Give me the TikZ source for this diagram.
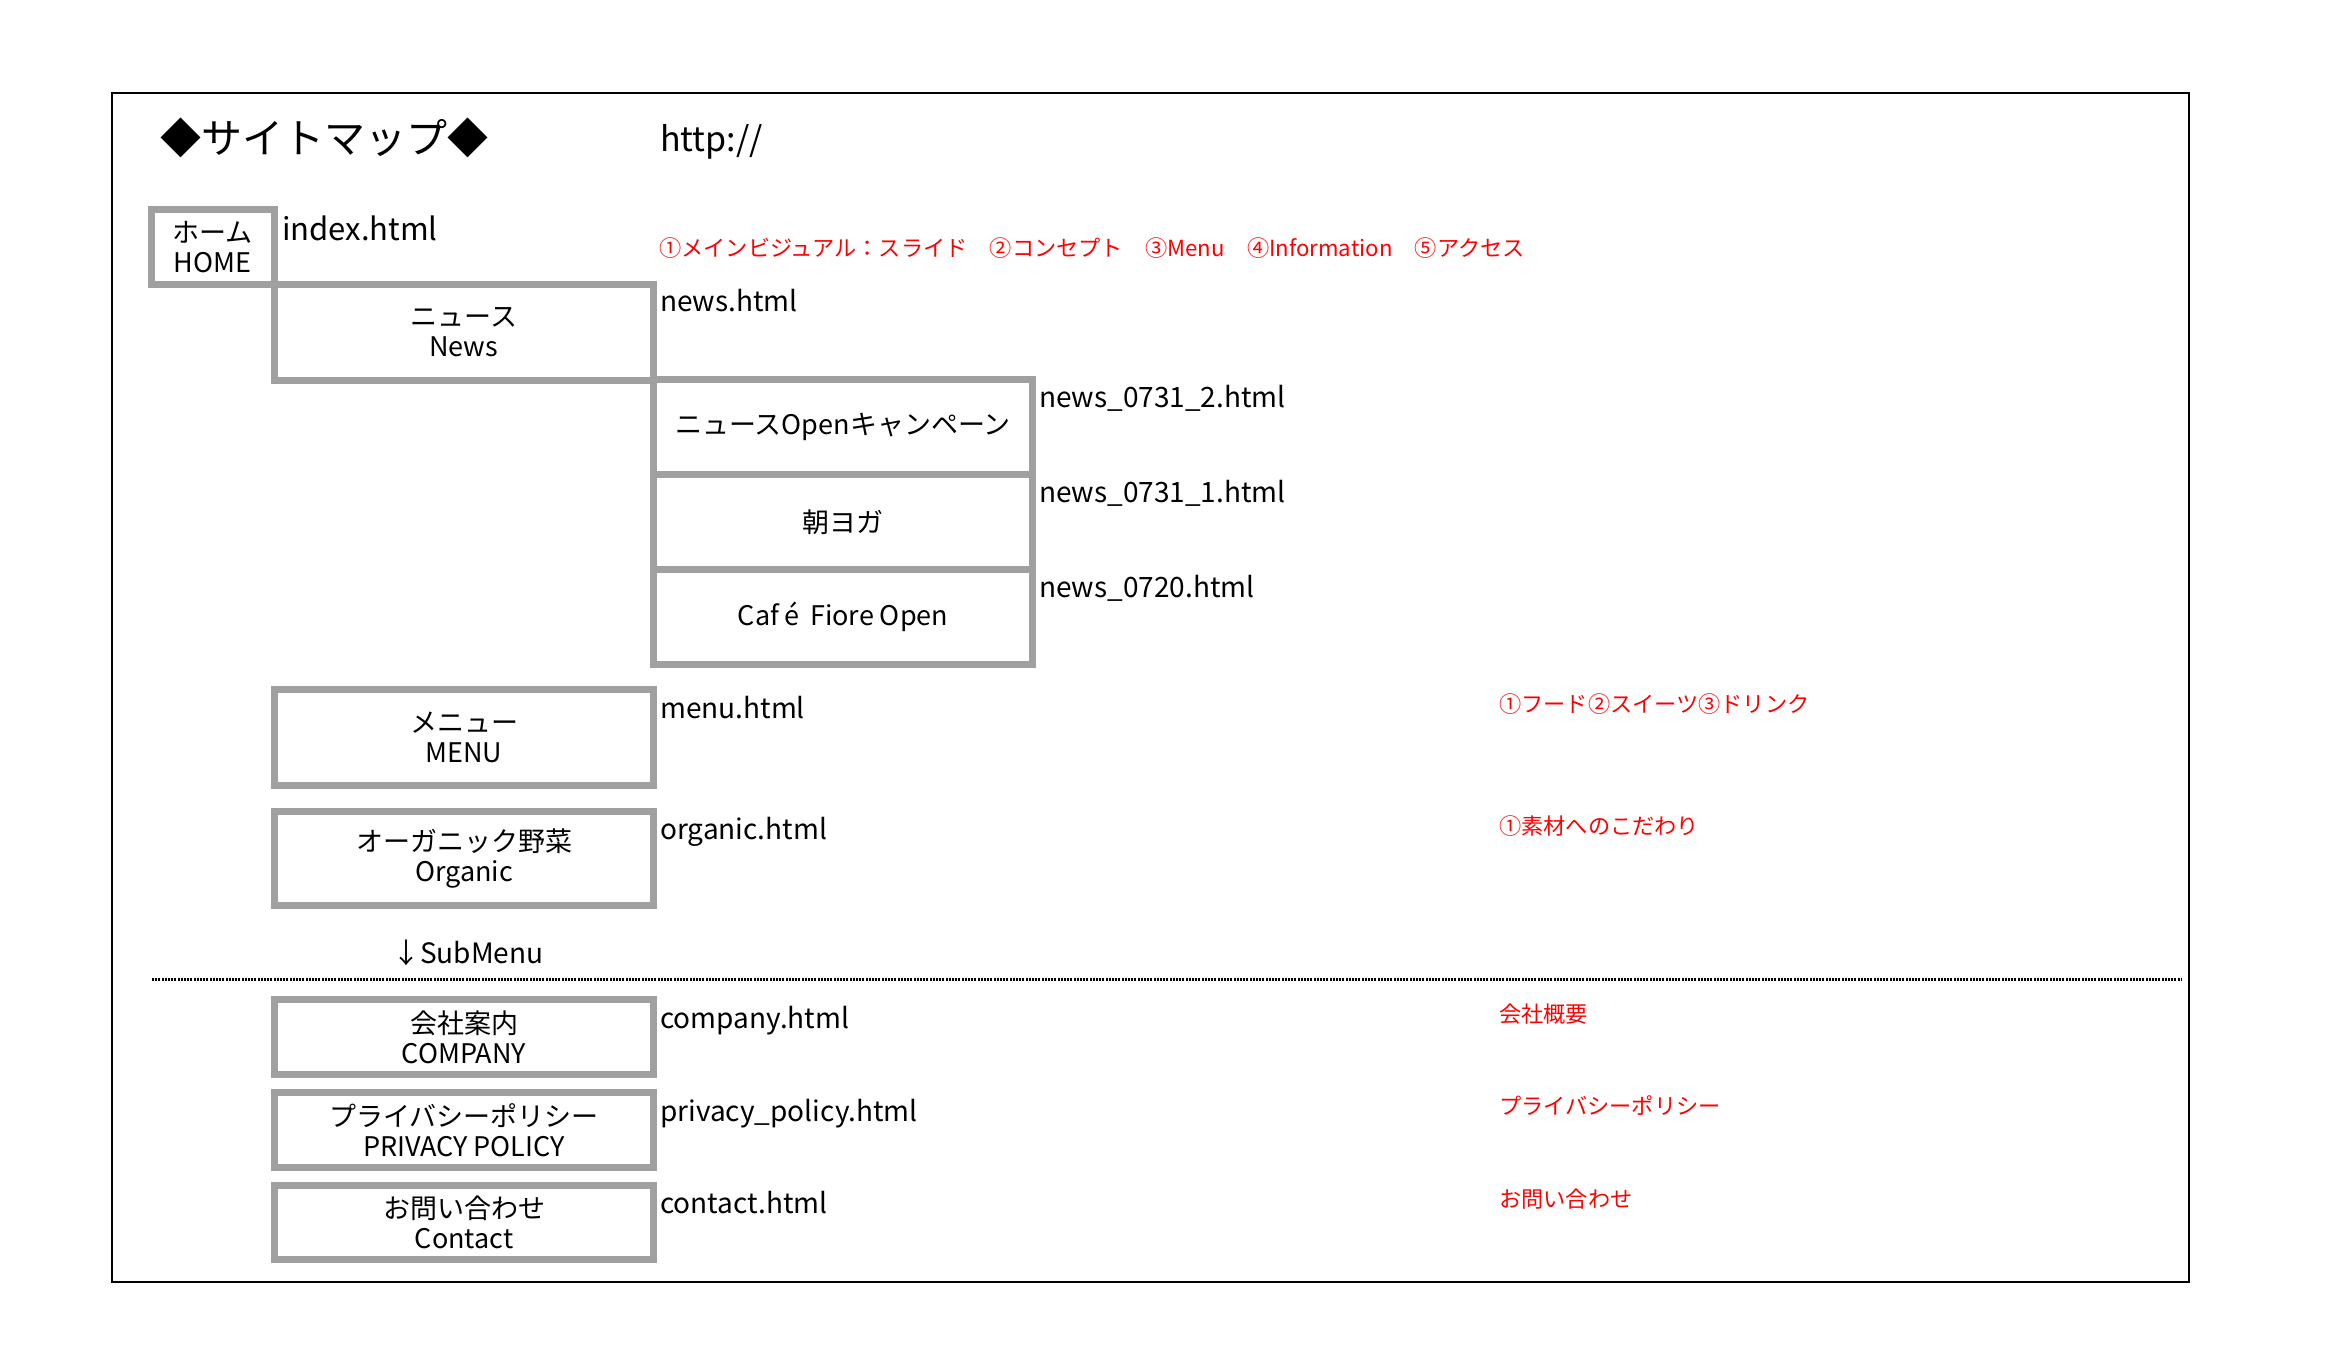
\documentclass[tikz,border=0pt]{standalone}
\usepackage{fontspec}
\setmainfont{Noto Sans CJK JP}
\definecolor{boxgray}{RGB}{160,160,160}
\definecolor{notered}{RGB}{255,0,0}
\begin{document}
\begin{tikzpicture}[x=1pt,y=-1pt,
  gbox/.style={draw=boxgray, line width=7pt, inner sep=0pt, align=center,
    font=\fontsize{27}{30}\selectfont},
  lbl/.style={anchor=mid west, inner sep=0pt, font=\fontsize{28}{30}\selectfont},
  note/.style={anchor=mid west, inner sep=0pt, text=notered, font=\fontsize{22.2}{26}\selectfont}]
\useasboundingbox (0,0) rectangle (2330,1348);
% frame
\draw[line width=2pt] (112,93) rectangle (2189,1282);
% title
\node[anchor=mid west, inner sep=0pt, font=\fontsize{41}{44}\selectfont] (title) at (160,151) {◆サイトマップ◆};
\node[anchor=mid west, inner sep=0pt, font=\fontsize{34}{36}\selectfont] (url) at (660,149) {http://};
% boxes
\node[gbox, minimum width=122.5pt, minimum height=75pt] (home) at (212.75,247) {ホーム\\HOME};
\node[gbox, minimum width=379.5pt, minimum height=95.5pt] (news) at (463.75,332.25) {ニュース\\News};
\node[gbox, minimum width=379pt, minimum height=95pt] (n1) at (843,427) {ニュースOpenキャンペーン};
\node[gbox, minimum width=379pt, minimum height=95pt] (n2) at (843,522) {朝ヨガ};
\node[gbox, minimum width=379pt, minimum height=95pt] (n3) at (843,617) {Caf\hspace{0.2em}é\hspace{0.4em}Fiore Open};
\node[gbox, minimum width=379pt, minimum height=96pt] (menu) at (464,737.5) {メニュー\\MENU};
\node[gbox, minimum width=379pt, minimum height=94pt] (org) at (464,858.5) {オーガニック野菜\\Organic};
\node[gbox, minimum width=379pt, minimum height=75pt] (comp) at (464,1037) {会社案内\\COMPANY};
\node[gbox, minimum width=379pt, minimum height=75pt] (priv) at (464,1130) {プライバシーポリシー\\PRIVACY POLICY};
\node[gbox, minimum width=379pt, minimum height=74pt] (cont) at (464,1222.5) {お問い合わせ\\Contact};
% file labels
\node[lbl, font=\fontsize{31}{34}\selectfont] (lhome) at (282,238) {index.html};
\node[lbl] (lnews) at (660,309) {news.html};
\node[lbl] (ln1) at (1039,405) {news\_0731\_2.html};
\node[lbl] (ln2) at (1039,500) {news\_0731\_1.html};
\node[lbl] (ln3) at (1039,595) {news\_0720.html};
\node[lbl] (lmenu) at (660,716) {menu.html};
\node[lbl] (lorg) at (660,837) {organic.html};
\node[lbl] (lcomp) at (660,1026) {company.html};
\node[lbl] (lpriv) at (660,1119) {privacy\_policy.html};
\node[lbl] (lcont) at (660,1211) {contact.html};
% notes
\node[note] (top) at (659,254) {①メインビジュアル：スライド　②コンセプト　③Menu　④Information　⑤アクセス};
\node[note] (nmenu) at (1499,710) {①フード②スイーツ③ドリンク};
\node[note] (norg) at (1499,832) {①素材へのこだわり};
\node[note] (ncomp) at (1499,1020) {会社概要};
\node[note] (npriv) at (1499,1112) {プライバシーポリシー};
\node[note] (ncont) at (1499,1205) {お問い合わせ};
% submenu
\node[anchor=mid west, inner sep=0pt, font=\fontsize{28}{30}\selectfont] (sub) at (392,961) {↓SubMenu};
\coordinate (dl) at (152,979);
\coordinate (dr) at (2182,979);
\draw[line width=3pt, dash pattern=on 2pt off 1.2pt] (dl) -- (dr);
\end{tikzpicture}
\end{document}
